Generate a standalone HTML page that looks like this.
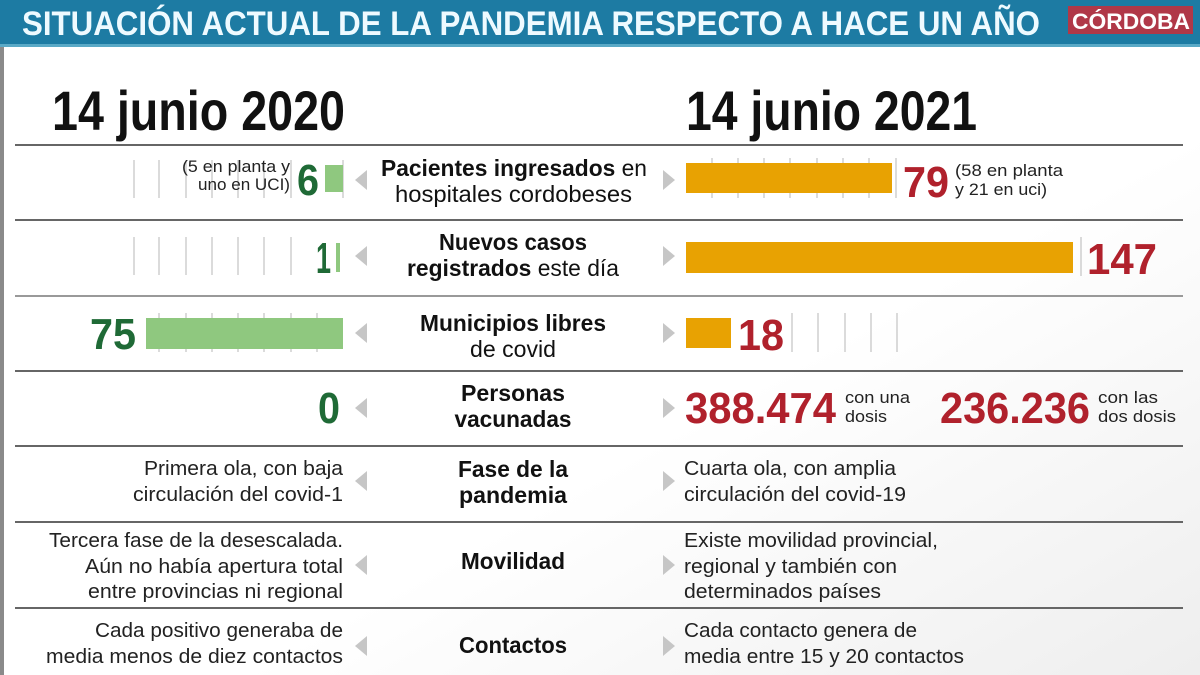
<!DOCTYPE html>
<html><head><meta charset="utf-8"><style>
html,body{margin:0;padding:0;background:#fff}
svg{display:block}
text{font-family:"Liberation Sans",sans-serif}
.b{font-weight:bold}
</style></head><body>
<svg width="1200" height="675" viewBox="0 0 1200 675" xmlns="http://www.w3.org/2000/svg">
<defs>
<linearGradient id="bg" x1="0" y1="0" x2="1" y2="1">
<stop offset="0.6" stop-color="#ffffff"/><stop offset="1" stop-color="#eeeeee"/>
</linearGradient>
</defs>
<rect width="1200" height="675" fill="url(#bg)"/>
<rect x="0" y="0" width="4" height="675" fill="#8a8a8a"/>
<rect x="0" y="0" width="1200" height="46" fill="#1d7ba3"/>
<rect x="0" y="44" width="1200" height="3" fill="#5aa9c6"/>
<text x="22" y="35" class="b" font-size="34" fill="#eefaff" textLength="1018" lengthAdjust="spacingAndGlyphs">SITUACIÓN ACTUAL DE LA PANDEMIA RESPECTO A HACE UN AÑO</text>
<rect x="1068" y="6" width="125" height="28" fill="#b03848"/>
<text x="1072" y="29" class="b" font-size="22" fill="#fff" textLength="118" lengthAdjust="spacingAndGlyphs">CÓRDOBA</text>

<text x="52" y="130" class="b" font-size="56" fill="#111" textLength="293" lengthAdjust="spacingAndGlyphs">14 junio 2020</text>
<text x="686" y="130" class="b" font-size="56" fill="#111" textLength="291" lengthAdjust="spacingAndGlyphs">14 junio 2021</text>

<g stroke="#666" stroke-width="2">
<line x1="15" y1="145" x2="1183" y2="145"/>
<line x1="15" y1="220" x2="1183" y2="220"/>
<line x1="15" y1="296" x2="1183" y2="296" stroke="#999"/>
<line x1="15" y1="371" x2="1183" y2="371"/>
<line x1="15" y1="446" x2="1183" y2="446"/>
<line x1="15" y1="522" x2="1183" y2="522"/>
<line x1="15" y1="608" x2="1183" y2="608"/>
</g>

<g stroke="#cfcfcf" stroke-width="1.5">
<line x1="134" y1="160" x2="134" y2="198"/><line x1="159" y1="160" x2="159" y2="198"/><line x1="186" y1="160" x2="186" y2="198"/><line x1="212" y1="160" x2="212" y2="198"/><line x1="238" y1="160" x2="238" y2="198"/><line x1="264" y1="160" x2="264" y2="198"/><line x1="291" y1="160" x2="291" y2="198"/><line x1="343" y1="160" x2="343" y2="198"/>
<line x1="134" y1="237" x2="134" y2="275"/><line x1="159" y1="237" x2="159" y2="275"/><line x1="186" y1="237" x2="186" y2="275"/><line x1="212" y1="237" x2="212" y2="275"/><line x1="238" y1="237" x2="238" y2="275"/><line x1="264" y1="237" x2="264" y2="275"/><line x1="291" y1="237" x2="291" y2="275"/>
<line x1="159" y1="313" x2="159" y2="352"/><line x1="186" y1="313" x2="186" y2="352"/><line x1="212" y1="313" x2="212" y2="352"/><line x1="238" y1="313" x2="238" y2="352"/><line x1="264" y1="313" x2="264" y2="352"/><line x1="291" y1="313" x2="291" y2="352"/><line x1="317" y1="313" x2="317" y2="352"/>
<line x1="712" y1="158" x2="712" y2="198"/><line x1="738" y1="158" x2="738" y2="198"/><line x1="764" y1="158" x2="764" y2="198"/><line x1="790" y1="158" x2="790" y2="198"/><line x1="817" y1="158" x2="817" y2="198"/><line x1="843" y1="158" x2="843" y2="198"/><line x1="869" y1="158" x2="869" y2="198"/><line x1="896" y1="158" x2="896" y2="198"/>
<line x1="792" y1="313" x2="792" y2="352"/><line x1="818" y1="313" x2="818" y2="352"/><line x1="845" y1="313" x2="845" y2="352"/><line x1="871" y1="313" x2="871" y2="352"/><line x1="897" y1="313" x2="897" y2="352"/>
<line x1="1081" y1="237" x2="1081" y2="276"/>
</g>

<g fill="#c6c6c6">
<polygon points="367,170 367,190 355,180"/><polygon points="367,246 367,266 355,256"/><polygon points="367,323 367,343 355,333"/><polygon points="367,398 367,418 355,408"/><polygon points="367,471 367,491 355,481"/><polygon points="367,555 367,575 355,565"/><polygon points="367,636 367,656 355,646"/>
<polygon points="663,170 663,190 675,180"/><polygon points="663,246 663,266 675,256"/><polygon points="663,323 663,343 675,333"/><polygon points="663,398 663,418 675,408"/><polygon points="663,471 663,491 675,481"/><polygon points="663,555 663,575 675,565"/><polygon points="663,636 663,656 675,646"/>
</g>

<rect x="325" y="165" width="18" height="27" fill="#8fc87f"/>
<rect x="336" y="243" width="4" height="29" fill="#8fc87f"/>
<rect x="146" y="318" width="197" height="31" fill="#8fc87f"/>
<rect x="686" y="163" width="206" height="30" fill="#e8a202"/>
<rect x="686" y="242" width="387" height="31" fill="#e8a202"/>
<rect x="686" y="318" width="45" height="30" fill="#e8a202"/>

<g class="b" fill="#1f6a36" font-size="44">
<text x="297" y="195" textLength="22" lengthAdjust="spacingAndGlyphs">6</text>
<text x="316" y="273" textLength="15" lengthAdjust="spacingAndGlyphs">1</text>
<text x="90" y="349" textLength="46" lengthAdjust="spacingAndGlyphs">75</text>
<text x="318" y="423" textLength="22" lengthAdjust="spacingAndGlyphs">0</text>
</g>
<g class="b" fill="#b0212c" font-size="44">
<text x="903" y="197" textLength="46" lengthAdjust="spacingAndGlyphs">79</text>
<text x="1087" y="274" textLength="70" lengthAdjust="spacingAndGlyphs">147</text>
<text x="738" y="350" textLength="46" lengthAdjust="spacingAndGlyphs">18</text>
<text x="685" y="423" textLength="151" lengthAdjust="spacingAndGlyphs">388.474</text>
<text x="940" y="423" textLength="150" lengthAdjust="spacingAndGlyphs">236.236</text>
</g>

<g font-size="17" fill="#222">
<text x="290" y="172" text-anchor="end" textLength="108" lengthAdjust="spacingAndGlyphs">(5 en planta y</text>
<text x="290" y="190" text-anchor="end" textLength="92" lengthAdjust="spacingAndGlyphs">uno en UCI)</text>
<text x="955" y="176" textLength="108" lengthAdjust="spacingAndGlyphs">(58 en planta</text>
<text x="955" y="195" textLength="92" lengthAdjust="spacingAndGlyphs">y 21 en uci)</text>
<text x="845" y="403" textLength="65" lengthAdjust="spacingAndGlyphs">con una</text>
<text x="845" y="422" textLength="42" lengthAdjust="spacingAndGlyphs">dosis</text>
<text x="1098" y="403" textLength="60" lengthAdjust="spacingAndGlyphs">con las</text>
<text x="1098" y="422" textLength="78" lengthAdjust="spacingAndGlyphs">dos dosis</text>
</g>

<g font-size="23" fill="#111">
<text x="381" y="176" textLength="266" lengthAdjust="spacingAndGlyphs"><tspan class="b">Pacientes ingresados</tspan> en</text>
<text x="395" y="202" textLength="237" lengthAdjust="spacingAndGlyphs">hospitales cordobeses</text>
<text x="513" y="250" text-anchor="middle" class="b" textLength="148" lengthAdjust="spacingAndGlyphs">Nuevos casos</text>
<text x="407" y="276" textLength="212" lengthAdjust="spacingAndGlyphs"><tspan class="b">registrados</tspan> este día</text>
<text x="513" y="331" text-anchor="middle" class="b" textLength="186" lengthAdjust="spacingAndGlyphs">Municipios libres</text>
<text x="513" y="357" text-anchor="middle" textLength="86" lengthAdjust="spacingAndGlyphs">de covid</text>
<text x="513" y="401" text-anchor="middle" class="b" textLength="104" lengthAdjust="spacingAndGlyphs">Personas</text>
<text x="513" y="427" text-anchor="middle" class="b" textLength="117" lengthAdjust="spacingAndGlyphs">vacunadas</text>
<text x="513" y="477" text-anchor="middle" class="b" textLength="110" lengthAdjust="spacingAndGlyphs">Fase de la</text>
<text x="513" y="503" text-anchor="middle" class="b" textLength="108" lengthAdjust="spacingAndGlyphs">pandemia</text>
<text x="513" y="569" text-anchor="middle" class="b" textLength="104" lengthAdjust="spacingAndGlyphs">Movilidad</text>
<text x="513" y="653" text-anchor="middle" class="b" textLength="108" lengthAdjust="spacingAndGlyphs">Contactos</text>
</g>

<g font-size="20" fill="#222">
<text x="343" y="475" text-anchor="end" textLength="199" lengthAdjust="spacingAndGlyphs">Primera ola, con baja</text>
<text x="343" y="501" text-anchor="end" textLength="210" lengthAdjust="spacingAndGlyphs">circulación del covid-1</text>
<text x="343" y="547" text-anchor="end" textLength="294" lengthAdjust="spacingAndGlyphs">Tercera fase de la desescalada.</text>
<text x="343" y="573" text-anchor="end" textLength="258" lengthAdjust="spacingAndGlyphs">Aún no había apertura total</text>
<text x="343" y="598" text-anchor="end" textLength="255" lengthAdjust="spacingAndGlyphs">entre provincias ni regional</text>
<text x="343" y="637" text-anchor="end" textLength="248" lengthAdjust="spacingAndGlyphs">Cada positivo generaba de</text>
<text x="343" y="663" text-anchor="end" textLength="297" lengthAdjust="spacingAndGlyphs">media menos de diez contactos</text>
<text x="684" y="475" textLength="212" lengthAdjust="spacingAndGlyphs">Cuarta ola, con amplia</text>
<text x="684" y="501" textLength="222" lengthAdjust="spacingAndGlyphs">circulación del covid-19</text>
<text x="684" y="547" textLength="254" lengthAdjust="spacingAndGlyphs">Existe movilidad provincial,</text>
<text x="684" y="573" textLength="213" lengthAdjust="spacingAndGlyphs">regional y también con</text>
<text x="684" y="598" textLength="197" lengthAdjust="spacingAndGlyphs">determinados países</text>
<text x="684" y="637" textLength="233" lengthAdjust="spacingAndGlyphs">Cada contacto genera de</text>
<text x="684" y="663" textLength="280" lengthAdjust="spacingAndGlyphs">media entre 15 y 20 contactos</text>
</g>
</svg>
</body></html>
